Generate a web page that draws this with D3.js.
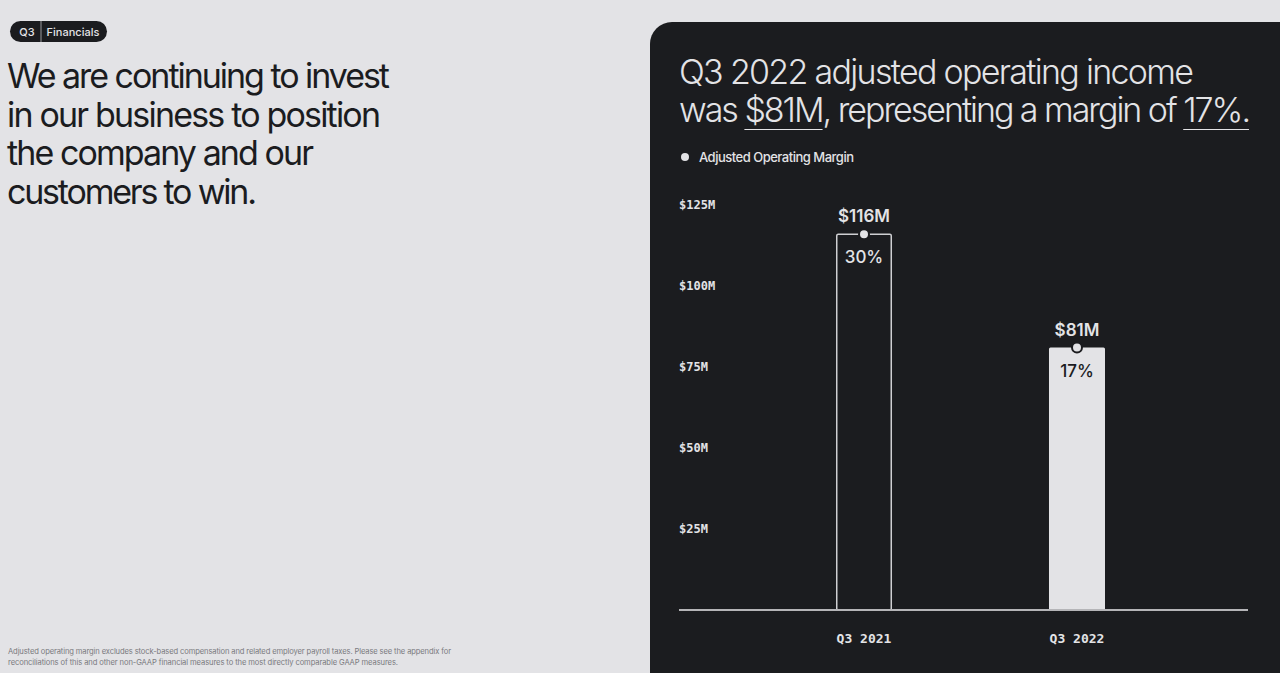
<!DOCTYPE html>
<html><head><meta charset="utf-8">
<script src="https://cdn.jsdelivr.net/npm/d3@7"></script>
<style>
html,body{margin:0;padding:0;background:#e3e3e6;overflow:hidden;}
svg{display:block;}
</style></head>
<body>
<svg id="c" width="1280" height="673"></svg>
<script>
const categories = ["Q3 2021", "Q3 2022"];
const incomeValues = [116, 81];
const marginValues = [30, 17];
const valueLabels = ["$116M", "$81M"];
const marginLabels = ["30%", "17%"];
const yTicks = [25, 50, 75, 100, 125];
const yTickLabels = ["$25M", "$50M", "$75M", "$100M", "$125M"];

const svg = d3.select("#c");
const sans = "Inter, 'Noto Sans', sans-serif";
const mono = "'DejaVu Sans Mono', 'Liberation Mono', monospace";
const light = "#e3e3e6", dark = "#1b1c1f";

// fit a text element to a target width by tightening letter spacing
function fitWidth(sel, target){
  sel.each(function(){
    const n = this.textContent.length;
    const w = this.getComputedTextLength();
    const cur = parseFloat(d3.select(this).attr("letter-spacing")) || 0;
    d3.select(this).attr("letter-spacing", cur + (target - w) / Math.max(1, n - 1));
  });
}

svg.append("rect").attr("width",1280).attr("height",673).attr("fill",light);

// Pill
const pill = svg.append("g");
pill.append("rect").attr("x",10).attr("y",21).attr("width",97).attr("height",21).attr("rx",10.5).attr("fill",dark);
pill.append("line").attr("x1",41).attr("x2",41).attr("y1",21).attr("y2",42).attr("stroke","#9a9a9e").attr("stroke-width",1);
pill.append("text").attr("x",27).attr("y",35.5).attr("text-anchor","middle").attr("fill",light).attr("font-family",sans).attr("font-size",11).attr("font-weight",500).text("Q3");
pill.append("text").attr("x",73).attr("y",35.5).attr("text-anchor","middle").attr("fill",light).attr("font-family",sans).attr("font-size",11).attr("font-weight",500).text("Financials");

// Left heading
const heading = ["We are continuing to invest","in our business to position","the company and our","customers to win."];
const headingW = [383, 374, 307, 250];
svg.append("g").selectAll("text").data(heading).join("text")
  .attr("x",7).attr("y",(d,i)=>88+i*38.7)
  .attr("fill",dark).attr("font-family",sans).attr("font-weight",400).attr("font-size",34)
  .text(d=>d)
  .each(function(d,i){ fitWidth(d3.select(this), headingW[i]); });

// Footnote
const foot = ["Adjusted operating margin excludes stock-based compensation and related employer payroll taxes. Please see the appendix for",
  "reconciliations of this and other non-GAAP financial measures to the most directly comparable GAAP measures."];
const footW = [443, 390];
svg.append("g").selectAll("text").data(foot).join("text")
  .attr("x",8).attr("y",(d,i)=>654+i*11)
  .attr("fill","#7a7a7e").attr("font-family",sans).attr("font-size",7.6).text(d=>d)
  .each(function(d,i){ fitWidth(d3.select(this), footW[i]); });

// Dark panel
svg.append("rect").attr("x",650).attr("y",22).attr("width",760).attr("height",760).attr("rx",22).attr("fill",dark);

// Panel title
const t1 = svg.append("text").attr("x",679).attr("y",84).attr("fill",light).attr("font-family",sans)
  .attr("font-weight",300).attr("font-size",34).text("Q3 2022 adjusted operating income");
fitWidth(t1, 515);
const t2 = svg.append("text").attr("x",679).attr("y",122).attr("fill",light).attr("font-family",sans)
  .attr("font-weight",300).attr("font-size",34);
const parts = ["was ", "$81M", ", representing a margin of ", "17%", "."];
parts.forEach(p=>t2.append("tspan").text(p));
fitWidth(t2, 572);
const full = parts.join("");
function underline(start, len){
  const node = t2.node();
  const x0 = node.getStartPositionOfChar(start).x;
  const x1 = node.getEndPositionOfChar(start+len-1).x;
  svg.append("line").attr("x1",x0).attr("x2",x1).attr("y1",129.5).attr("y2",129.5).attr("stroke",light).attr("stroke-width",1.2);
}
underline(full.indexOf("$81M"),4);
underline(full.indexOf("17%"),4);

// Legend
svg.append("circle").attr("cx",685).attr("cy",157).attr("r",4).attr("fill",light);
const lg = svg.append("text").attr("x",699).attr("y",161.5).attr("fill",light).attr("font-family",sans).attr("font-size",13).attr("font-weight",500).text("Adjusted Operating Margin");
fitWidth(lg, 155);

// Scales
const y = d3.scaleLinear().domain([0,125]).range([610,205]);
const x = d3.scaleBand().domain(categories).range([729.5,1211.5]).paddingInner(0.737).paddingOuter(0.5);

// Y axis tick labels
svg.append("g").selectAll("text").data(yTicks).join("text")
  .attr("x",679).attr("y",d=>y(d)+4).attr("fill",light).attr("font-family",mono).attr("font-weight","bold").attr("font-size",12)
  .text((d,i)=>yTickLabels[i]);

// Bars
const data = categories.map((c,i)=>({c, v:incomeValues[i], m:marginValues[i], vl:valueLabels[i], ml:marginLabels[i], i}));
svg.append("g").selectAll("rect").data(data).join("rect")
  .attr("x",d=>x(d.c)+(d.i===0?0.75:0)).attr("y",d=>y(d.v))
  .attr("width",d=>x.bandwidth()-(d.i===0?1.5:0)).attr("height",d=>y(0)-y(d.v))
  .attr("rx",1.5)
  .attr("fill",d=>d.i===0?dark:light)
  .attr("stroke",d=>d.i===0?"#cfcfd2":"none").attr("stroke-width",1.5);

// Baseline axis
const xAxis = svg.append("g").attr("transform","translate(0,610)");
xAxis.append("line").attr("x1",679).attr("x2",1248).attr("stroke","#b5b5b8").attr("stroke-width",2);
svg.append("g").selectAll("text").data(categories).join("text")
  .attr("x",d=>x(d)+x.bandwidth()/2).attr("y",643).attr("text-anchor","middle")
  .attr("fill",light).attr("font-family",mono).attr("font-weight","bold").attr("font-size",13).text(d=>d);

// Dots, value labels, margin labels
const marks = svg.append("g");
marks.selectAll("circle").data(data).join("circle")
  .attr("cx",d=>x(d.c)+x.bandwidth()/2).attr("cy",d=>y(d.v))
  .attr("r",5).attr("fill",light).attr("stroke",dark).attr("stroke-width",2);
marks.selectAll("text.v").data(data).join("text").attr("class","v")
  .attr("x",d=>x(d.c)+x.bandwidth()/2).attr("y",d=>y(d.v)-12).attr("text-anchor","middle")
  .attr("fill",light).attr("font-family",sans).attr("font-weight",600).attr("font-size",17).text(d=>d.vl);
marks.selectAll("text.m").data(data).join("text").attr("class","m")
  .attr("x",d=>x(d.c)+x.bandwidth()/2).attr("y",d=>y(d.v)+29).attr("text-anchor","middle")
  .attr("fill",d=>d.i===0?light:dark).attr("font-family",sans).attr("font-weight",500).attr("font-size",17).text(d=>d.ml);
</script>
</body></html>
